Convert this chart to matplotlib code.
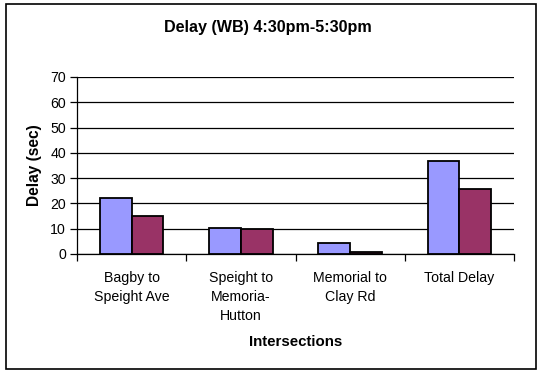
import numpy as np
import matplotlib.pyplot as plt
from matplotlib.patches import Rectangle

plt.rcParams["font.family"] = ["Liberation Sans", "DejaVu Sans"]

categories = ["Bagby to\nSpeight Ave", "Speight to\nMemoria-\nHutton",
              "Memorial to\nClay Rd", "Total Delay"]
delay_a = [22.3, 10.3, 4.3, 36.9]
delay_b = [15.0, 9.7, 0.8, 25.8]
yticks = [0, 10, 20, 30, 40, 50, 60, 70]

fig = plt.figure(figsize=(5.39, 3.71), dpi=100)
fig.patch.set_facecolor("white")

# outer chart border
fig.add_artist(Rectangle((0.011, 0.006), 0.984, 0.983, transform=fig.transFigure,
                         fill=False, edgecolor="black", linewidth=1.2))

ax = fig.add_axes([0.1429, 0.3154, 0.8107, 0.4771])

x = np.arange(len(categories))
w = 0.29
ax.bar(x - w / 2, delay_a, w, color="#9999FF", edgecolor="black", linewidth=1.3, zorder=3)
ax.bar(x + w / 2, delay_b, w, color="#993366", edgecolor="black", linewidth=1.3, zorder=3)

ax.set_xlim(-0.5, len(categories) - 0.5)
ax.set_ylim(0, 70)
ax.set_yticks(yticks)
ax.yaxis.grid(True, color="black", linewidth=0.9, zorder=0)
ax.set_axisbelow(True)

ax.set_xticks(np.arange(len(categories) + 1) - 0.5)
ax.set_xticklabels([])
ax.set_xticks(x, minor=True)
ax.set_xticklabels(categories, minor=True, fontsize=10.2, linespacing=1.45)
ax.tick_params(axis="x", which="minor", length=0, pad=12)
ax.tick_params(axis="x", which="major", direction="out", length=5, width=0.9)
ax.tick_params(axis="y", direction="out", length=5, width=0.9, labelsize=10.2, pad=3)

for side in ("top", "right"):
    ax.spines[side].set_visible(False)
for side in ("left", "bottom"):
    ax.spines[side].set_linewidth(0.9)

ax.set_ylabel("Delay (sec)", fontsize=11.2, fontweight="bold", labelpad=6)
ax.set_xlabel("Intersections", fontsize=10.8, fontweight="bold", labelpad=9)
fig.text(0.497, 0.927, "Delay (WB) 4:30pm-5:30pm", ha="center", va="center",
         fontsize=11.6, fontweight="bold")

fig.savefig("out.png", dpi=100, facecolor="white")
